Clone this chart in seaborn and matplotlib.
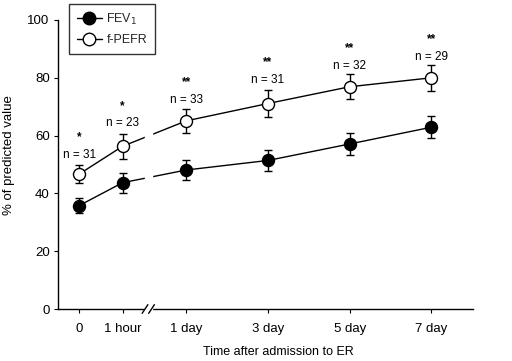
import matplotlib
matplotlib.use("Agg")
import matplotlib.pyplot as plt
import seaborn as sns
import pandas as pd
import numpy as np

# ---- data ----
categories = ["0", "1 hour", "1 day", "3 day", "5 day", "7 day"]
fev1 = [35.8, 43.7, 48.1, 51.4, 57.1, 62.9]
fev1_err = [2.5, 3.4, 3.6, 3.7, 3.9, 3.9]
fpefr = [46.7, 56.3, 65.1, 71.1, 76.9, 80.0]
fpefr_err = [3.2, 4.3, 4.1, 4.8, 4.4, 4.5]
n_labels = ["n = 31", "n = 23", "n = 33", "n = 31", "n = 32", "n = 29"]
sig_labels = ["*", "*", "**", "**", "**", "**"]

# ---- layout ----
xpos = [0.0, 0.53, 1.31, 2.31, 3.31, 4.31]
n_y = [53.3, 64.4, 72.3, 79.2, 84.0, 87.2]
sig_y = [59.5, 70.2, 78.5, 85.5, 90.3, 93.4]
break_lo, break_hi = 0.805, 0.885

sns.set_theme(style="ticks")
plt.rcParams['font.family'] = ['Liberation Sans', 'DejaVu Sans']

fig = plt.figure(figsize=(5.12, 3.61), dpi=100)
ax = fig.add_axes([58/512, 1-309/361, (473-58)/512, (309-20)/361])

df = pd.DataFrame({
    "x": xpos * 2,
    "y": fev1 + fpefr,
    "series": ["FEV$_1$"] * 6 + ["f-PEFR"] * 6,
})

sns.lineplot(data=df, x="x", y="y", hue="series", style="series",
             palette=["black", "black"], markers=False, dashes=False,
             linewidth=1.0, ax=ax, legend=False, zorder=2)

ax.errorbar(xpos, fev1, yerr=fev1_err, fmt="none", ecolor="black",
            elinewidth=1.0, capsize=3, capthick=1.0, zorder=3)
ax.errorbar(xpos, fpefr, yerr=fpefr_err, fmt="none", ecolor="black",
            elinewidth=1.0, capsize=3, capthick=1.0, zorder=3)

sns.scatterplot(x=xpos, y=fev1, color="black", edgecolor="black",
                s=75, linewidth=1.0, ax=ax, zorder=4)
sns.scatterplot(x=xpos, y=fpefr, color="white", edgecolor="black",
                s=75, linewidth=1.0, ax=ax, zorder=4)

ax.set_xlim(-0.26, 4.82)
ax.set_ylim(0, 100)
ax.set_yticks([0, 20, 40, 60, 80, 100])
ax.set_xticks(xpos)
ax.set_xticklabels(categories)
sns.despine(ax=ax)
for s in ["left", "bottom"]:
    ax.spines[s].set_color("black")
    ax.spines[s].set_linewidth(1.0)
ax.tick_params(axis="both", direction="out", length=3, width=0.8,
               colors="black", labelsize=9.5, pad=3)
ax.tick_params(axis="x", pad=7)

# axis break: white band + slashes
ax.axvspan(break_lo, break_hi, ymin=-0.01, ymax=0.9, color="white",
           zorder=5, clip_on=False)
for bx in (break_lo, break_hi):
    ax.plot([bx - 0.035, bx + 0.035], [-1.5, 1.5], color="black",
            lw=1.0, clip_on=False, zorder=6)

# annotations
for x, t, y in zip(xpos, n_labels, n_y):
    ax.text(x, y, t, ha="center", va="center", fontsize=8.5, color="black")
for x, t, y in zip(xpos, sig_labels, sig_y):
    ax.text(x, y, t, ha="center", va="center", fontsize=8.5,
            fontweight="bold", color="black")

ax.set_ylabel("% of predicted value", fontsize=9.5, color="black")
ax.yaxis.set_label_coords(-0.104, 0.533)
ax.set_xlabel("Time after admission to ER", fontsize=9, color="black")
ax.xaxis.label.set_va("center")
ax.xaxis.set_label_coords(0.53, -0.149)

# legend
from matplotlib.lines import Line2D
handles = [
    Line2D([], [], color="black", lw=1.0, marker="o", markersize=9,
           markerfacecolor="black", markeredgecolor="black"),
    Line2D([], [], color="black", lw=1.0, marker="o", markersize=9,
           markerfacecolor="white", markeredgecolor="black"),
]
leg = fig.legend(handles, ["FEV$_1$", "f-PEFR"], loc="upper left",
                 bbox_to_anchor=(69/512, 1-4/361), fontsize=9,
                 frameon=True, fancybox=False, handlelength=2.0,
                 borderpad=0.6, labelspacing=0.6, handletextpad=0.4,
                 borderaxespad=0)
leg.get_frame().set_edgecolor("black")
leg.get_frame().set_linewidth(1.0)

fig.savefig("out.png", dpi=100)
